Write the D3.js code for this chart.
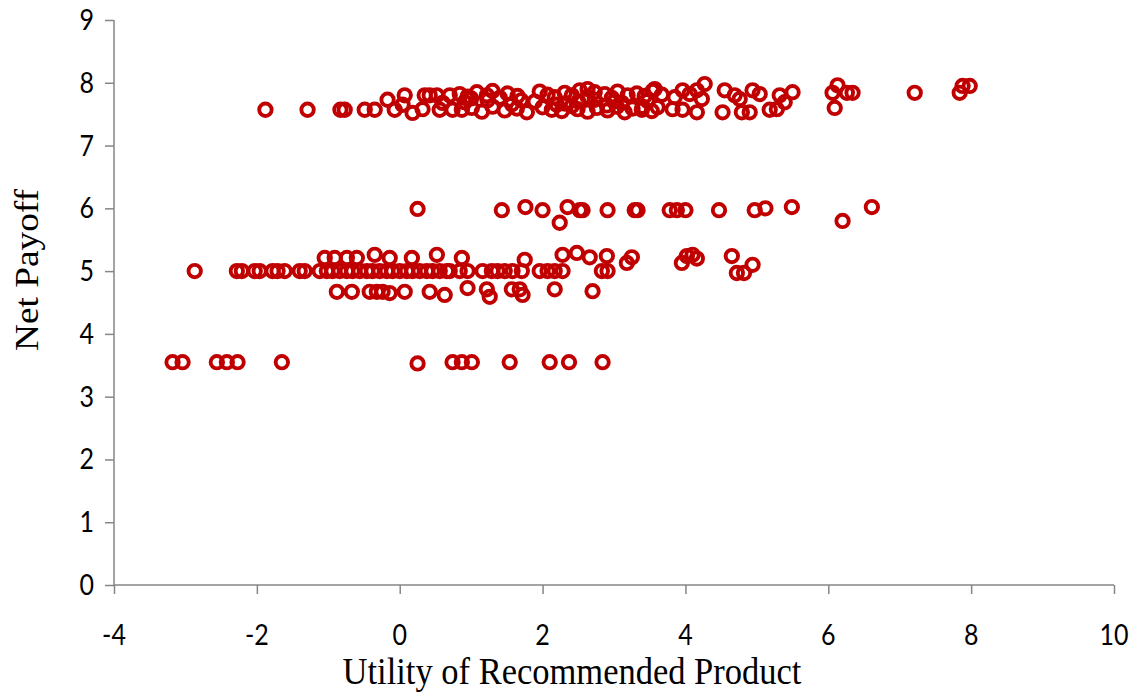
<!DOCTYPE html>
<html>
<head>
<meta charset="utf-8">
<script src="https://cdn.jsdelivr.net/npm/d3@7"></script>
<style>
  html, body { margin: 0; padding: 0; background: #fff; }
  svg { display: block; }
</style>
</head>
<body>
<svg id="chart" width="1132" height="698"></svg>
<script>
// ---- Data ----
const xTicks = [-4, -2, 0, 2, 4, 6, 8, 10];
const yTicks = [0, 1, 2, 3, 4, 5, 6, 7, 8, 9];
const xTitle = "Utility of Recommended Product";
const yTitle = "Net Payoff";

// Top band (net payoff ~7.5 - 8)
const topU = [-1.88,-1.29,-0.83,-0.77,-0.49,-0.35,-0.17,-0.07,0.07,0.04,0.18,0.35,0.42,0.32,0.52,0.56,0.70,0.74,
  0.84,0.95,1.08,1.22,1.30,1.40,1.51,1.65,1.96,2.07,2.17,2.31,2.41,2.52,2.63,2.73,2.87,2.97,3.05,3.19,3.32,3.43,3.54,3.67,
  0.87,1.01,1.15,1.30,1.47,1.64,1.78,2.00,2.13,2.27,2.41,2.49,2.63,2.76,2.91,3.04,3.15,3.26,3.39,3.53,3.61,
  0.91,1.23,1.57,1.89,2.31,2.73,3.11,3.47,
  2.63,3.57,
  0.60,1.00,1.70,2.20,2.50,2.90,3.00,3.40,
  3.85,3.96,4.06,4.16,4.27,4.23,4.16,3.96,3.82,4.52,4.55,4.69,4.76,4.79,4.90,4.94,5.04,5.18,5.28,5.32,5.39,5.50,
  6.13,6.06,6.09,6.26,6.34,7.21,7.84,7.88,7.98];
const topV = [7.57,7.57,7.57,7.57,7.57,7.57,7.73,7.57,7.80,7.65,7.52,7.80,7.80,7.58,7.80,7.57,7.80,7.57,
  7.82,7.78,7.85,7.80,7.87,7.76,7.83,7.79,7.86,7.81,7.77,7.84,7.80,7.88,7.78,7.85,7.82,7.76,7.86,7.80,7.83,7.79,7.87,7.81,
  7.57,7.60,7.54,7.62,7.56,7.59,7.53,7.61,7.57,7.55,7.63,7.58,7.54,7.60,7.56,7.62,7.53,7.59,7.57,7.55,7.61,
  7.69,7.72,7.66,7.70,7.67,7.73,7.68,7.71,
  7.90,7.90,
  7.68,7.75,7.72,7.65,7.70,7.64,7.70,7.62,
  7.77,7.88,7.82,7.88,7.98,7.74,7.53,7.57,7.58,7.53,7.88,7.80,7.74,7.53,7.53,7.88,7.82,7.57,7.58,7.80,7.69,7.85,
  7.96,7.84,7.60,7.84,7.84,7.84,7.84,7.95,7.95];

// Six band (~6)
const sixU = [0.25,1.43,1.76,2.00,2.35,2.24,2.52,2.56,2.91,3.29,3.33,3.78,3.88,4.00,4.47,4.97,5.12,5.49,6.20,6.61];
const sixV = [5.99,5.97,6.02,5.97,6.02,5.77,5.97,5.97,5.97,5.97,5.97,5.97,5.97,5.97,5.97,5.97,6.00,6.02,5.80,6.02];

// Five band (~4.6 - 5.3)
const fiveU = [-2.87,-2.28,-2.21,-2.03,-1.96,-1.78,-1.71,-1.61,-1.40,-1.33,-1.12,-1.02,-0.94,-0.84,-0.74,-0.66,-0.56,-0.46,-0.38,-0.28,-0.18,-0.10,0.00,0.10,0.18,0.28,0.38,0.46,0.56,0.66,0.70,0.84,0.95,1.16,1.29,1.37,1.47,1.58,1.71,1.96,2.07,2.17,2.28,2.83,2.91,
  3.18,3.95,4.72,4.82,
  -1.05,-0.91,-0.74,-0.60,-0.35,-0.14,0.17,0.52,0.87,1.75,2.28,2.48,2.66,2.90,3.25,4.02,4.10,4.16,4.65,4.94,
  -0.88,-0.67,-0.42,-0.32,-0.24,-0.14,0.07,0.42,0.63,0.95,1.22,1.26,1.57,1.68,1.72,2.17,2.70];
const fiveV = [5.00,5.00,5.00,5.00,5.00,5.00,5.00,5.00,5.00,5.00,5.00,5.00,5.00,5.00,5.00,5.00,5.00,5.00,5.00,5.00,5.00,5.00,5.00,5.00,5.00,5.00,5.00,5.00,5.00,5.00,5.00,5.00,5.00,5.00,5.00,5.00,5.00,5.00,5.00,5.00,5.00,5.00,5.00,5.00,5.00,
  5.13,5.13,4.97,4.97,
  5.21,5.21,5.21,5.21,5.26,5.21,5.21,5.26,5.21,5.18,5.26,5.29,5.22,5.24,5.22,5.24,5.26,5.20,5.24,5.10,
  4.67,4.67,4.67,4.67,4.67,4.65,4.67,4.67,4.62,4.73,4.71,4.59,4.71,4.71,4.62,4.71,4.68];

// Low band (~3.55)
const lowU = [-3.18,-3.04,-2.56,-2.42,-2.27,-1.65,0.25,0.74,0.87,1.01,1.54,2.10,2.37,2.84];
const lowV = [3.55,3.55,3.55,3.55,3.55,3.55,3.53,3.55,3.55,3.55,3.55,3.55,3.55,3.55];

// ---- Build ----
(function () {
const svg = d3.select("#chart");
const mLeft = 114, mRight = 1114, mTop = 20, mBottom = 585;
const x = d3.scaleLinear().domain([-4, 10]).range([mLeft, mRight]);
const y = d3.scaleLinear().domain([0, 9]).range([mBottom, mTop]);
const axisColor = "#868686";
const stretch = 1.13;

const pts = [];
[[topU, topV], [sixU, sixV], [fiveU, fiveV], [lowU, lowV]].forEach(([us, vs]) => {
  us.forEach((u, i) => pts.push({u: u, v: vs[i]}));
});

// Axes
const xAxis = d3.axisBottom(x).tickValues(xTicks).tickSize(9).tickFormat("");
const gx = svg.append("g").attr("transform", `translate(0,${mBottom})`).call(xAxis);
const yAxis = d3.axisLeft(y).tickValues(yTicks).tickSize(9).tickFormat("");
const gy = svg.append("g").attr("transform", `translate(${mLeft},0)`).call(yAxis);
[gx, gy].forEach(g => {
  g.select(".domain").attr("stroke", axisColor).attr("stroke-width", 1.5);
  g.selectAll(".tick line").attr("stroke", axisColor).attr("stroke-width", 1.5);
});
gx.select(".domain").attr("d", `M${mLeft},0H${mRight}`);
gy.select(".domain").attr("d", `M0,${mTop}V${mBottom}`);

// Tick labels
const labelFont = "Lato, 'Noto Sans', sans-serif";
svg.append("g").selectAll("text").data(xTicks).join("text")
  .attr("transform", d => `translate(${x(d)},${645}) scale(1,${stretch})`)
  .attr("text-anchor", "middle")
  .attr("font-family", labelFont).attr("font-size", 25).attr("fill", "#000")
  .text(d => d);
svg.append("g").selectAll("text").data(yTicks).join("text")
  .attr("transform", d => `translate(94,${y(d) + 10}) scale(1,${stretch})`)
  .attr("text-anchor", "end")
  .attr("font-family", labelFont).attr("font-size", 25).attr("fill", "#000")
  .text(d => d);

// Titles
svg.append("text")
  .attr("transform", `translate(572,684) scale(1,${stretch})`)
  .attr("text-anchor", "middle")
  .attr("font-family", "'Liberation Serif', 'Times New Roman', serif")
  .attr("font-size", 34.5).attr("fill", "#000")
  .text(xTitle);
svg.append("text")
  .attr("transform", `translate(38,270) rotate(-90) scale(${stretch},1)`)
  .attr("text-anchor", "middle")
  .attr("font-family", "'Liberation Serif', 'Times New Roman', serif")
  .attr("font-size", 33).attr("fill", "#000")
  .text(yTitle);

// Points
svg.append("g").selectAll("circle").data(pts).join("circle")
  .attr("cx", d => x(d.u))
  .attr("cy", d => y(d.v))
  .attr("r", 6.2)
  .attr("fill", "none")
  .attr("stroke", "#C00000")
  .attr("stroke-width", 3.9);
})();
</script>
</body>
</html>
